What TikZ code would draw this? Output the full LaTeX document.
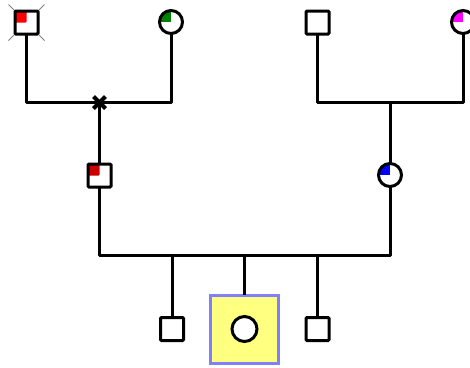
\documentclass[tikz,border=0pt]{standalone}
\usetikzlibrary{calc}
\definecolor{fred}{RGB}{255,0,0}
\definecolor{dred}{RGB}{204,0,0}
\definecolor{fgreen}{RGB}{0,128,0}
\definecolor{fmag}{RGB}{255,0,255}
\definecolor{fblue}{RGB}{0,0,255}
\definecolor{pfill}{RGB}{255,255,128}
\definecolor{pborder}{RGB}{128,128,255}
\tikzset{
  line/.style={line width=3pt, line join=round},
  male/.style={draw, line width=3pt, fill=white, rectangle, minimum size=23pt, inner sep=0pt, outer sep=0pt, rounded corners=1pt},
  female/.style={draw, line width=3pt, fill=white, circle, minimum size=23pt, inner sep=0pt, outer sep=0pt},
  quad/.style={path picture={\fill[#1] (path picture bounding box.north west) rectangle (path picture bounding box.center);}},
  probbox/.style={draw=pborder, line width=3pt, fill=pfill, rectangle, minimum size=68pt, inner sep=0pt, outer sep=0pt},
}
\begin{document}
\begin{tikzpicture}[x=1pt,y=-1pt]
\useasboundingbox (0,0) rectangle (470,367);
\clip (0,0) rectangle (470,367);
% grey crossing behind first founder
\coordinate (f1pos) at (26.5,22.5);
\draw[gray, line width=1pt] ($(f1pos)+(-18,-18)$) -- ($(f1pos)+(18,18)$);
\draw[gray, line width=1pt] ($(f1pos)+(18,-18)$) -- ($(f1pos)+(-18,18)$);
% generation I
\node[male, quad=fred] (f1) at (f1pos) {};
\node[female, quad=fgreen] (m1) at (171,22) {};
\node[male] (f2) at (317.5,22.5) {};
\node[female, quad=fmag] (m2) at (463,22) {};
\coordinate (u1) at (99.5,102.5);
\coordinate (u2) at (390,102.5);
% generation II
\node[male, quad=dred] (c1) at (99.5,175.5) {};
\node[female, quad=fblue] (c2) at (390,175) {};
\coordinate (u3) at (244.5,255);
% generation III
\node[male] (s1) at (172,329) {};
\node[probbox] (pb) at (244.5,329) {};
\node[female, minimum size=25pt] (pr) at (244.5,329) {};
\node[male] (s2) at (317.5,329) {};
% connectors
\draw[line] (f1) |- (u1) -| (m1);
\draw[line] (f2) |- (u2) -| (m2);
\draw[line] (u1) -- (c1);
\draw[line] (u2) -- (c2);
\draw[line width=4pt] ($(u1)+(-6,-6)$) -- ($(u1)+(6,6)$);
\draw[line width=4pt] ($(u1)+(6,-6)$) -- ($(u1)+(-6,6)$);
\draw[line] (c1) |- (u3) -| (c2);
\draw[line] (s1 |- u3) -- (s1);
\draw[line] (u3) -- (pb);
\draw[line] (s2 |- u3) -- (s2);
\end{tikzpicture}
\end{document}
